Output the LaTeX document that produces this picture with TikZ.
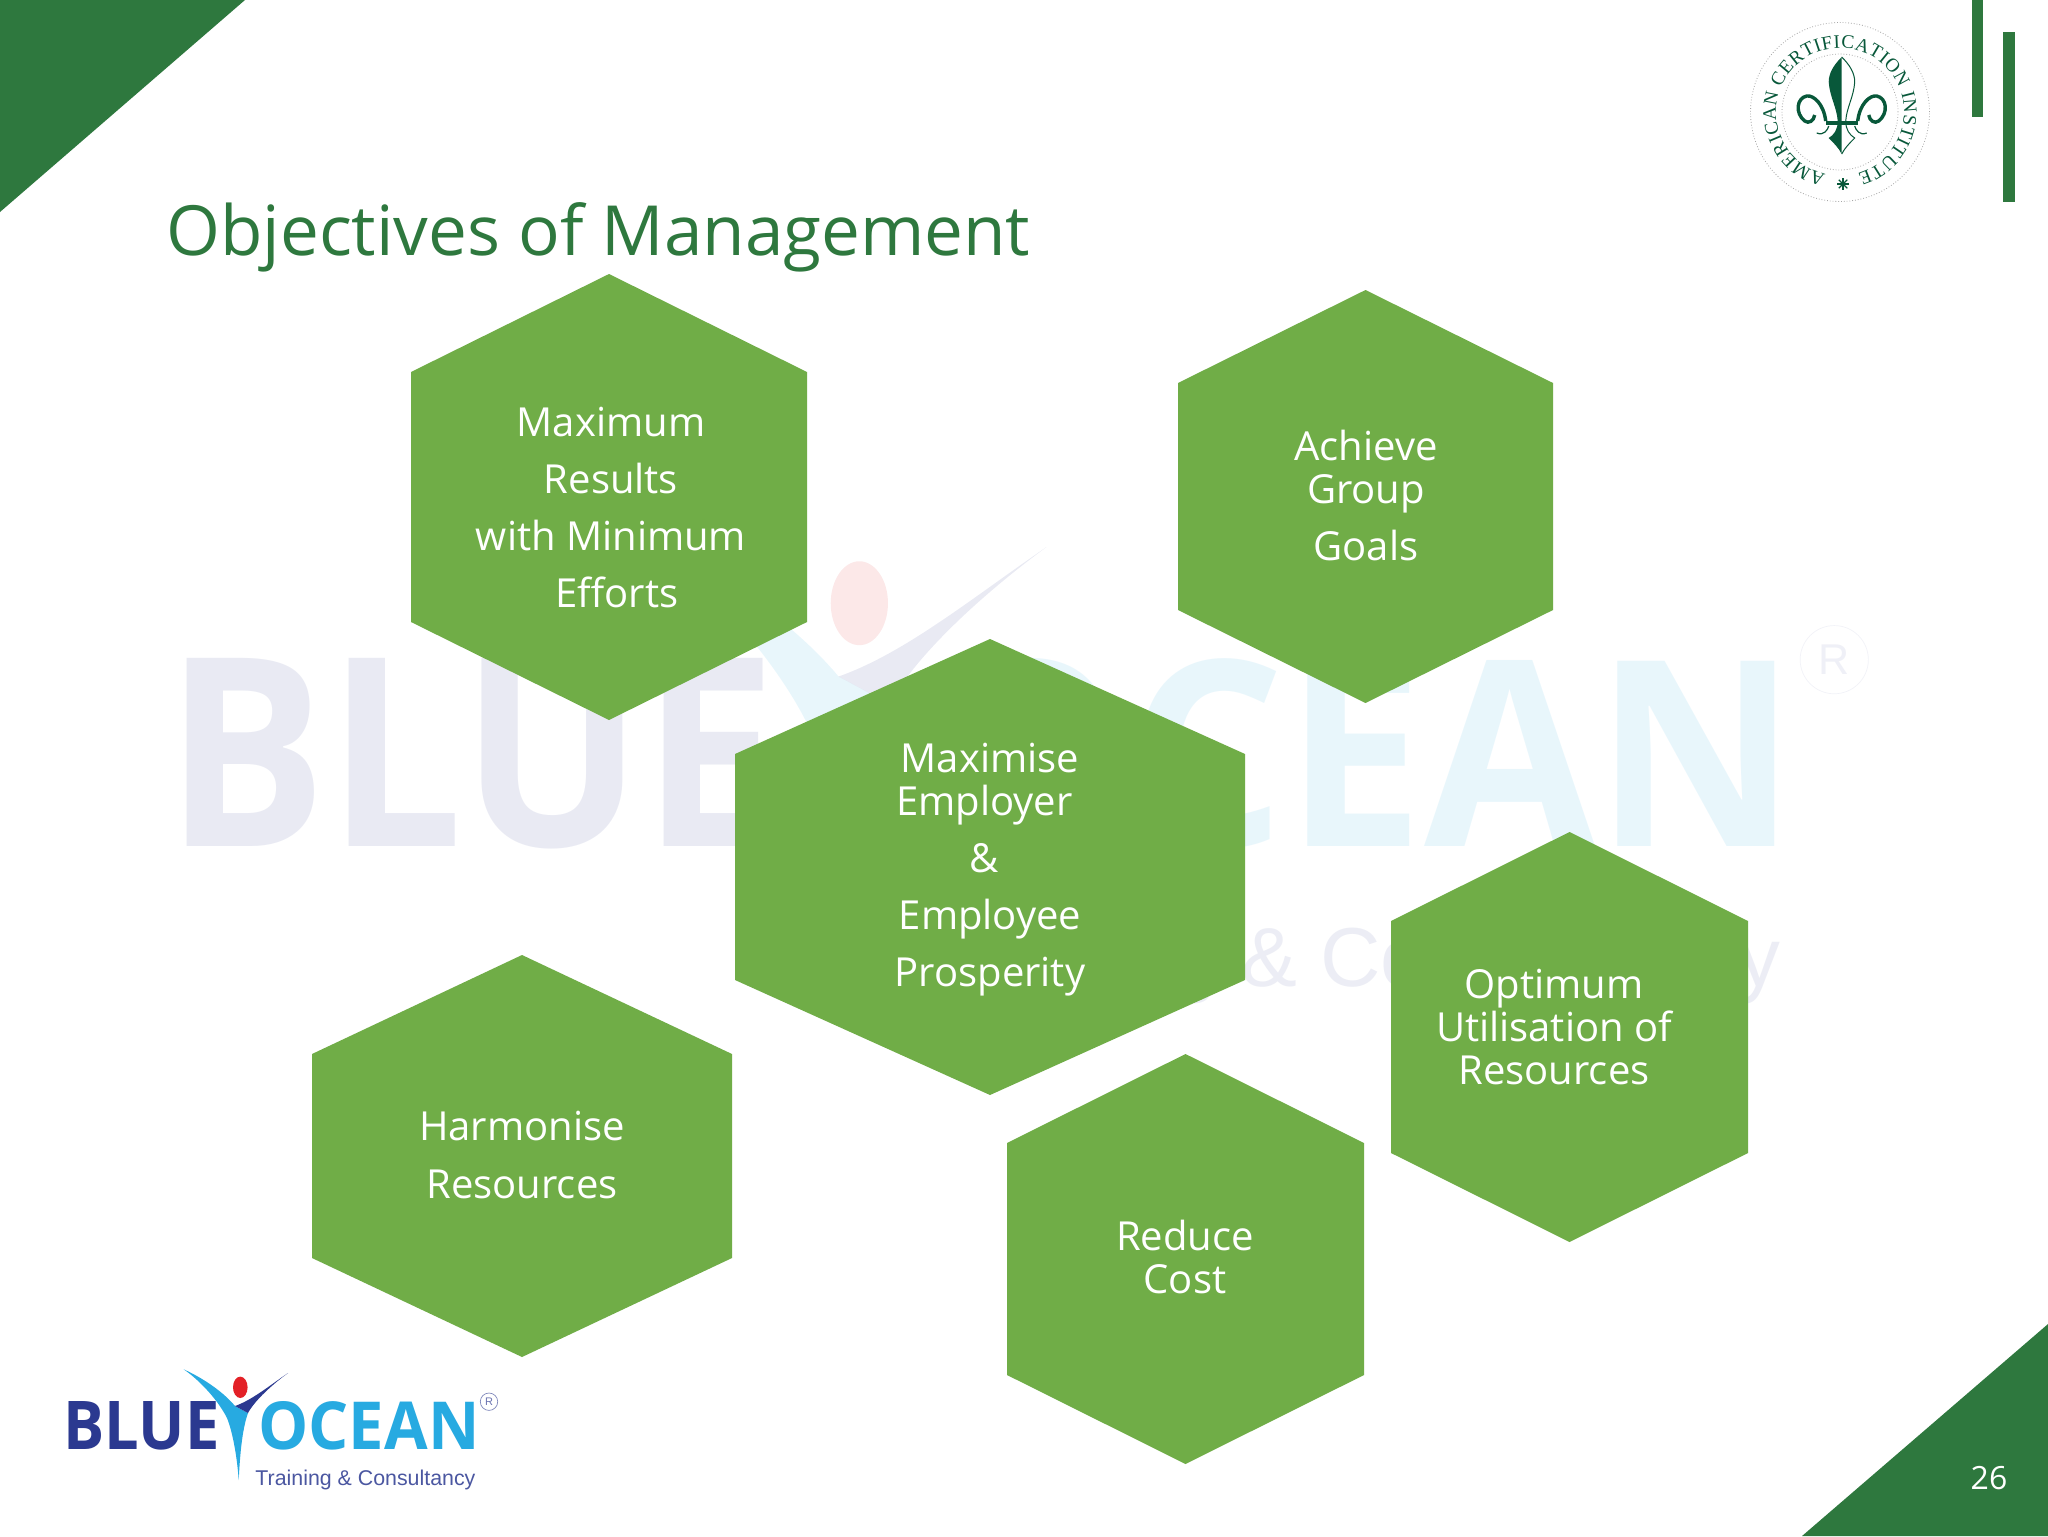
\documentclass[tikz,border=0pt]{standalone}
\usepackage{fontspec}
\setmainfont{Open Sans}
\newfontfamily\sealfont{Liberation Serif}
\newfontfamily\tagfont{Liberation Sans}
\usetikzlibrary{decorations.text}
\definecolor{slidegreen}{RGB}{46,120,62}
\definecolor{hexgreen}{RGB}{112,173,71}
\definecolor{sealgreen}{RGB}{8,88,58}
\definecolor{oceannavy}{RGB}{43,57,144}
\definecolor{oceancyan}{RGB}{39,170,225}
\definecolor{oceanred}{RGB}{227,33,39}
\tikzset{
  corner/.style={fill=slidegreen},
  hexcell/.style={fill=hexgreen},
  hexlabel/.style={
    text=white,
    align=center,
    inner sep=0pt,
    font=\fontsize{20}{21.5}\selectfont
  },
  title/.style={
    text=slidegreen,
    anchor=base west,
    inner sep=0pt,
    font=\fontsize{34.6}{40}\selectfont
  },
  logotext/.style={anchor=north west,inner sep=0pt},
  sealline/.style={draw=black!35,line width=.4pt,densely dotted},
  fleur/.style={fill=sealgreen}
}
\newcommand{\hexshape}[6]{%
  \fill[hexcell] (#1,#3+#5) -- ({(#1+#2)/2},#3) -- (#2,#3+#5) -- (#2,#4-#5)
    -- ({(#1+#2)/2},#4) -- (#1,#4-#5) -- cycle;
  \coordinate (#6) at ({(#1+#2)/2},{(#3+#4)/2});
}
\newcommand{\oceanlogo}{%
  \node[logotext,text=oceannavy] (blue) at (-4,1)
    {\resizebox{78pt}{24pt}{\bfseries BLUE}};
  \node[logotext,text=oceancyan] (ocean) at (191,1)
    {\resizebox{110.5pt}{24pt}{\bfseries OCEAN}};
  \fill[oceancyan] (116.7,-30.7) .. controls (140,-20) and (158,-6) .. (168,6)
    -- (181,13) .. controls (175,30) and (173,55) .. (171.7,80)
    .. controls (170,55) and (165,30) .. (160,18)
    .. controls (152,2) and (135,-18) .. (116.7,-30.7) -- cycle;
  \fill[oceannavy] (221,-27) .. controls (202,-14) and (185,0) .. (168,6)
    -- (181,13) .. controls (188,0) and (206,-16) .. (221,-27) -- cycle;
  \fill[oceanred] (173.3,-12.7) ellipse[x radius=7.3,y radius=10.7];
  \draw[oceannavy!60,line width=.35pt] (422,1.7) circle[radius=8.7];
  \node[text=oceannavy!70,inner sep=0pt,font=\tagfont\fontsize{5.5}{6}\selectfont] (regmark) at (422,1.7) {R};
  \node[logotext,anchor=base west,text=oceannavy!85] (tagline) at (188,85)
    {\resizebox{110pt}{!}{\tagfont Training \& Consultancy}};
}
\begin{document}
\begin{tikzpicture}[x=.5pt,y=-.5pt]
\useasboundingbox (0,0) rectangle (2048,1536);
\fill[white] (0,0) rectangle (2048,1536);
\begin{scope}[shift={(180,653)},scale=3.92,transform shape,opacity=.1]
\oceanlogo
\end{scope}
\fill[corner] (0,0) -- (245,0) -- (0,212) -- cycle;
\fill[corner] (1802,1536) -- (2048,1324) -- (2048,1536) -- cycle;
\fill[corner] (1972,0) rectangle (1983,117);
\fill[corner] (2003,32) rectangle (2015,202);
\node[title] (heading) at (166,255) {Objectives of Management};
\hexshape{411}{807}{274}{720}{98}{maxhex}
\hexshape{1178}{1553}{290}{703}{93}{grouphex}
\hexshape{735}{1245}{639}{1095}{115}{prosphex}
\hexshape{1391}{1748}{832}{1242}{89}{utilhex}
\hexshape{312}{732}{955}{1357}{99}{harmhex}
\hexshape{1007}{1364}{1054}{1464}{89}{costhex}
\node[hexlabel] (maxresults) at (611,508) {Maximum\\[7pt]Results\\[7pt]with Minimum\\[7pt]\hspace*{6pt}Efforts};
\node[hexlabel] (groupgoals) at (1366,495) {Achieve\\Group\\[7pt]Goals};
\node[hexlabel] (prosperity) at (990,870) {Maximise\\\hspace*{-5.5pt}Employer\\[7pt]\hspace*{-5.5pt}\&\\[7pt]Employee\\[7pt]Prosperity};
\node[hexlabel] (utilisation) at (1554,1027) {Optimum\\Utilisation of\\Resources};
\node[hexlabel] (harmonise) at (522,1155) {Harmonise\\[7pt]Resources};
\node[hexlabel] (reducecost) at (1185,1257) {Reduce\\Cost};
\node[text=white,inner sep=0pt,font=\fontsize{16}{19}\selectfont] (pageno) at (1989,1478) {26};
\begin{scope}[shift={(67,1400)}]
\oceanlogo
\end{scope}
\begin{scope}[shift={(1840,112)},y=.5pt]
\draw[sealline] (0,0) circle[radius=89.5];
\draw[sealline] (0,0) circle[radius=58];
\path[decorate,decoration={text along path,text align={fit to path},
  text={|\sealfont\fontsize{9.6}{10}\selectfont\color{sealgreen}|AMERICAN CERTIFICATION INSTITUTE}}]
  (257:64) arc[start angle=257,end angle=-74,radius=64];
\foreach \a in {0,45,...,315}
  \draw[sealgreen,line width=.6pt] (3,-72) -- ++(\a:6);
\end{scope}
\begin{scope}[shift={(1841.7,0)}]
\fill[fleur] (0,57) .. controls (-8,65) and (-13,73) .. (-13,82)
  .. controls (-12,97) and (-5,107) .. (-4,121)
  .. controls (-4,130) and (-8,135) .. (-13,138)
  .. controls (-8,143) and (-3,148) .. (0,154) -- cycle;
\draw[sealgreen,line width=.5pt] (0,57) .. controls (8,65) and (13,73) .. (13,82)
  .. controls (12,97) and (5,107) .. (4,121)
  .. controls (4,130) and (8,135) .. (13,138)
  .. controls (8,143) and (3,148) .. (0,154);
\foreach \s in {1,-1} {
  \draw[sealgreen,line width=1.7pt] (\s*-16,121) .. controls (\s*-18,104) and (\s*-28,95) .. (\s*-35,96)
    .. controls (\s*-45,98) and (\s*-47,113) .. (\s*-37,121) .. controls (\s*-33,124) and (\s*-28,121) .. (\s*-27,115);
  \draw[sealgreen,line width=.6pt] (\s*-25,133) .. controls (\s*-18,136) and (\s*-14,130) .. (\s*-13,126);
}
\fill[fleur] (-16,121) rectangle (16,125);
\end{scope}
\end{tikzpicture}
\end{document}
